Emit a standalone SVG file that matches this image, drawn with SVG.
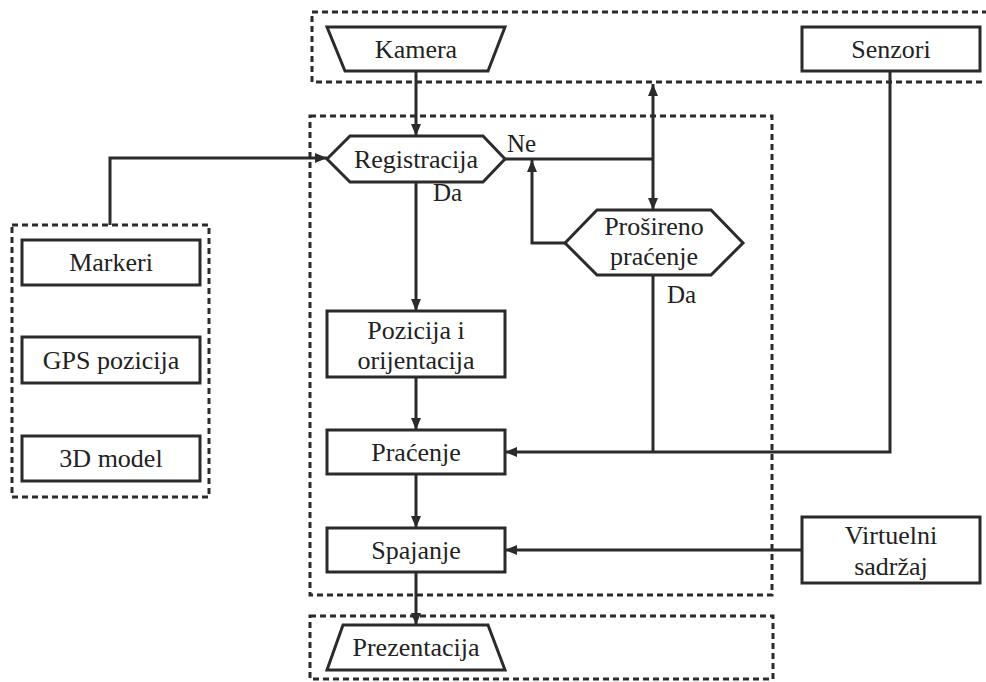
<svg xmlns="http://www.w3.org/2000/svg" width="986" height="682" viewBox="0 0 986 682">
  <style>
    .bg { fill: #ffffff; }
    .node { fill: #ffffff; stroke: #2b2b2b; stroke-width: 3; stroke-linejoin: miter; }
    .group { fill: none; stroke: #2b2b2b; stroke-width: 3; stroke-dasharray: 6 4; }
    .wire { fill: none; stroke: #2b2b2b; stroke-width: 3; }
    .lbl { font-family: "Liberation Serif", "Times New Roman", serif; font-size: 26px; fill: #222; text-anchor: middle; }
    .tag { font-family: "Liberation Serif", "Times New Roman", serif; font-size: 25px; fill: #222; }
  </style>
  <defs>
    <marker id="arrow" viewBox="0 0 12 10" refX="12" refY="5" markerWidth="12" markerHeight="10" markerUnits="userSpaceOnUse" orient="auto">
      <path d="M0,0 L12,5 L0,10 Z" fill="#2b2b2b"/>
    </marker>
  </defs>
  <rect class="bg" x="0" y="0" width="986" height="682"/>

  <!-- dashed grouping frames -->
  <g id="frames">
    <rect class="group" x="312" y="12" width="680" height="70"/>
    <rect class="group" x="310" y="116" width="462" height="479"/>
    <rect class="group" x="12" y="225" width="197" height="272"/>
    <rect class="group" x="310" y="616" width="463" height="63"/>
  </g>

  <!-- connectors -->
  <g id="connectors">
    <path class="wire" d="M416,71 V136" marker-end="url(#arrow)"/>
    <path class="wire" d="M505,159 H653"/>
    <path class="wire" d="M653,159 V84" marker-end="url(#arrow)"/>
    <path class="wire" d="M653,159 V210" marker-end="url(#arrow)"/>
    <path class="wire" d="M565,243 H532 V160" marker-end="url(#arrow)"/>
    <path class="wire" d="M110,225 V158 H327" marker-end="url(#arrow)"/>
    <path class="wire" d="M416,182 V311" marker-end="url(#arrow)"/>
    <path class="wire" d="M416,377 V430" marker-end="url(#arrow)"/>
    <path class="wire" d="M416,474 V528" marker-end="url(#arrow)"/>
    <path class="wire" d="M416,572 V625" marker-end="url(#arrow)"/>
    <path class="wire" d="M653,275 V452"/>
    <path class="wire" d="M890,71 V452 H505" marker-end="url(#arrow)"/>
    <path class="wire" d="M802,550 H505" marker-end="url(#arrow)"/>
    <text class="tag" x="507" y="152">Ne</text>
    <text class="tag" x="433" y="201">Da</text>
    <text class="tag" x="667" y="303">Da</text>
  </g>

  <g id="kamera">
    <polygon class="node" points="327,27 505,27 488,71 345,71"/>
    <text class="lbl" x="416" y="58">Kamera</text>
  </g>
  <g id="senzori">
    <rect class="node" x="802" y="27" width="178" height="44"/>
    <text class="lbl" x="891" y="58">Senzori</text>
  </g>
  <g id="registracija">
    <polygon class="node" points="327,159 350,136 483,136 505,159 483,182 350,182"/>
    <text class="lbl" x="416" y="168">Registracija</text>
  </g>
  <g id="prosireno">
    <polygon class="node" points="565,243 597,210 711,210 743,243 711,275 597,275"/>
    <text class="lbl" x="654" y="235">Prošireno</text>
    <text class="lbl" x="654" y="265">praćenje</text>
  </g>
  <g id="markeri">
    <rect class="node" x="22" y="240" width="178" height="45"/>
    <text class="lbl" x="111" y="271">Markeri</text>
  </g>
  <g id="gps">
    <rect class="node" x="22" y="337" width="178" height="46"/>
    <text class="lbl" x="111" y="369">GPS pozicija</text>
  </g>
  <g id="model3d">
    <rect class="node" x="22" y="436" width="178" height="45"/>
    <text class="lbl" x="111" y="467">3D model</text>
  </g>
  <g id="pozicija">
    <rect class="node" x="327" y="311" width="178" height="66"/>
    <text class="lbl" x="416" y="339">Pozicija i</text>
    <text class="lbl" x="416" y="369">orijentacija</text>
  </g>
  <g id="pracenje">
    <rect class="node" x="327" y="430" width="178" height="44"/>
    <text class="lbl" x="416" y="461">Praćenje</text>
  </g>
  <g id="spajanje">
    <rect class="node" x="327" y="528" width="178" height="44"/>
    <text class="lbl" x="416" y="559">Spajanje</text>
  </g>
  <g id="virtuelni">
    <rect class="node" x="802" y="517" width="178" height="66"/>
    <text class="lbl" x="891" y="544">Virtuelni</text>
    <text class="lbl" x="891" y="575">sadržaj</text>
  </g>
  <g id="prezentacija">
    <polygon class="node" points="343,625 488,625 505,670 327,670"/>
    <text class="lbl" x="416" y="656">Prezentacija</text>
  </g>
</svg>
